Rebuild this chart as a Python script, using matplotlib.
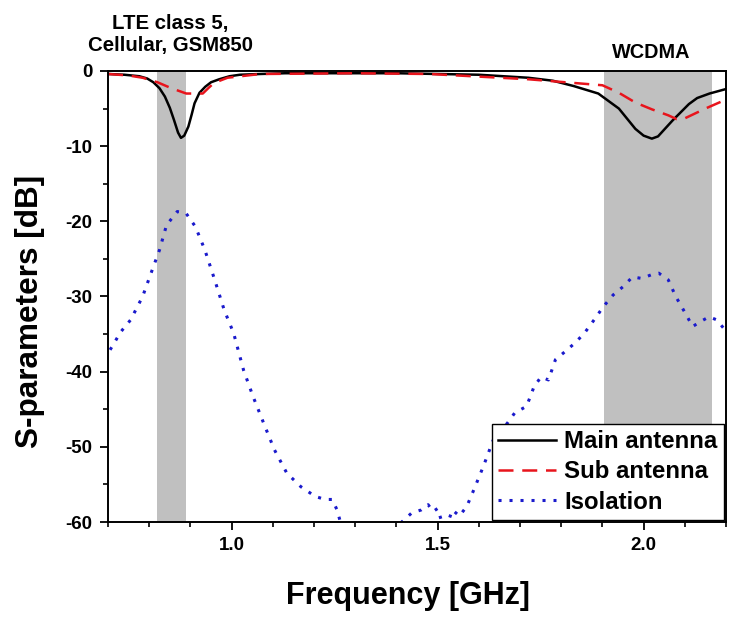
import numpy as np
import matplotlib.pyplot as plt
from matplotlib.ticker import MultipleLocator

plt.rcParams['font.family'] = ['Liberation Sans', 'DejaVu Sans']
plt.rcParams['font.weight'] = 'bold'
plt.rcParams['axes.unicode_minus'] = False

# main antenna reflection
main_f = [0.70, 0.74, 0.776, 0.795, 0.81, 0.825, 0.838, 0.85, 0.86, 0.87, 0.877, 0.885,
          0.895, 0.903, 0.91, 0.922, 0.936, 0.95, 0.97, 0.995, 1.02, 1.07,
          1.13, 1.4, 1.6, 1.72, 1.78, 1.83, 1.89, 1.94, 1.98, 2.0, 2.02, 2.035, 2.05,
          2.07, 2.09, 2.11, 2.13, 2.16, 2.2]
main_db = [-0.4, -0.5, -0.7, -1.0, -1.5, -2.3, -3.4, -4.9, -6.5, -8.2, -8.9, -8.6,
           -7.4, -5.8, -4.3, -2.9, -2.1, -1.5, -1.1, -0.7, -0.5, -0.4,
           -0.3, -0.3, -0.5, -0.9, -1.3, -2.0, -3.0, -5.0, -7.7, -8.6, -9.0, -8.7, -7.8,
           -6.6, -5.5, -4.4, -3.6, -3.0, -2.4]

# sub antenna reflection
sub_f = [0.70, 0.75, 0.784, 0.82, 0.854, 0.89, 0.93, 0.945, 0.957, 0.99, 1.07, 1.3,
         1.48, 1.72, 1.9, 1.94, 1.98, 2.02, 2.06, 2.08, 2.1, 2.15, 2.2]
sub_db = [-0.4, -0.6, -0.9, -1.5, -2.3, -3.0, -3.0, -2.2, -1.6, -0.9, -0.4, -0.3,
          -0.4, -1.1, -1.9, -2.9, -4.2, -5.1, -5.9, -6.4, -6.3, -5.0, -3.8]

# isolation
iso_f = [0.705, 0.731, 0.755, 0.784, 0.807, 0.825, 0.842, 0.868, 0.889, 0.912,
         0.935, 0.959, 0.982, 1.005, 1.029, 1.052, 1.081, 1.104, 1.134, 1.168,
         1.203, 1.227, 1.244, 1.256, 1.264, 1.3, 1.35, 1.39, 1.413, 1.437, 1.46,
         1.477, 1.489, 1.5, 1.512, 1.522, 1.536, 1.553, 1.571, 1.588, 1.611,
         1.635, 1.67, 1.687, 1.716, 1.734, 1.751, 1.769, 1.786, 1.81, 1.833,
         1.856, 1.88, 1.903, 1.926, 1.95, 1.973, 1.996, 2.019, 2.037, 2.06,
         2.078, 2.101, 2.119, 2.136, 2.159, 2.177, 2.194]
iso_db = [-37.1, -34.7, -33.1, -30.0, -26.5, -23.8, -20.5, -18.7, -18.9, -20.7,
          -23.8, -27.8, -31.8, -34.9, -39.8, -43.3, -47.3, -50.4, -53.5, -55.3,
          -56.6, -57.0, -57.0, -58.4, -60.0, -63.0, -64.5, -63.0, -60.0, -58.8, -58.4,
          -57.7, -58.6, -58.2, -60.3, -60.5, -58.4, -59.2, -57.9, -55.7, -52.6,
          -49.1, -46.8, -45.5, -44.6, -42.0, -40.7, -41.1, -38.4, -37.3, -36.2,
          -34.9, -33.1, -31.3, -29.8, -28.7, -27.4, -27.6, -27.1, -26.9, -27.8,
          -30.0, -32.2, -34.0, -33.4, -32.7, -33.1, -34.2]

bands = [(0.818, 0.889), (1.904, 2.165)]

fig = plt.figure(figsize=(7.45, 6.21), dpi=100)
ax = fig.add_axes([0.145, 0.1594, 0.8295, 0.7263])

for lo, hi in bands:
    ax.axvspan(lo, hi, color='#c0c0c0', lw=0, zorder=0)

ax.plot(main_f, main_db, color='black', lw=1.8, label='Main antenna')
ax.plot(sub_f, sub_db, color='#e8141c', lw=1.8, ls=(0, (6, 3.5)), label='Sub antenna')
ax.plot(iso_f, iso_db, color='#1a1acc', lw=2.2, ls=(0, (1, 2.6)), label='Isolation')

ax.set_xlim(0.7, 2.2)
ax.set_ylim(-60, 0)
ax.xaxis.set_major_locator(MultipleLocator(0.5))
ax.xaxis.set_minor_locator(MultipleLocator(0.1))
ax.yaxis.set_major_locator(MultipleLocator(10))
ax.yaxis.set_minor_locator(MultipleLocator(5))
ax.xaxis.set_major_formatter(plt.FormatStrFormatter('%.1f'))
ax.tick_params(which='major', direction='out', length=6, width=1.3, labelsize=13.5, pad=5)
ax.tick_params(which='minor', direction='out', length=3.5, width=1.2)
for s in ax.spines.values():
    s.set_linewidth(1.4)

ax.set_xlabel('Frequency [GHz]', fontsize=22, fontweight='bold', va='center')
ax.set_ylabel('S-parameters [dB]', fontsize=22.7, fontweight='bold', va='center')
ax.xaxis.set_label_coords(0.485, -0.164)
ax.yaxis.set_label_coords(-0.126, 0.466)

leg = ax.legend(loc='lower right', fontsize=17.3, frameon=True, fancybox=False,
                framealpha=1, borderaxespad=0.1, handlelength=2.4, handletextpad=0.35,
                labelspacing=0.3, borderpad=0.25)
leg.get_frame().set_edgecolor('black')
leg.get_frame().set_linewidth(1.0)

fig.text(170 / 745, 1 - 34 / 621, 'LTE class 5,\nCellular, GSM850', ha='center',
         va='center', fontsize=14.7, fontweight='bold', linespacing=1.2)
fig.text(651 / 745, 1 - 52 / 621, 'WCDMA', ha='center', va='center',
         fontsize=14.3, fontweight='bold')

fig.savefig('out.png', dpi=100)
